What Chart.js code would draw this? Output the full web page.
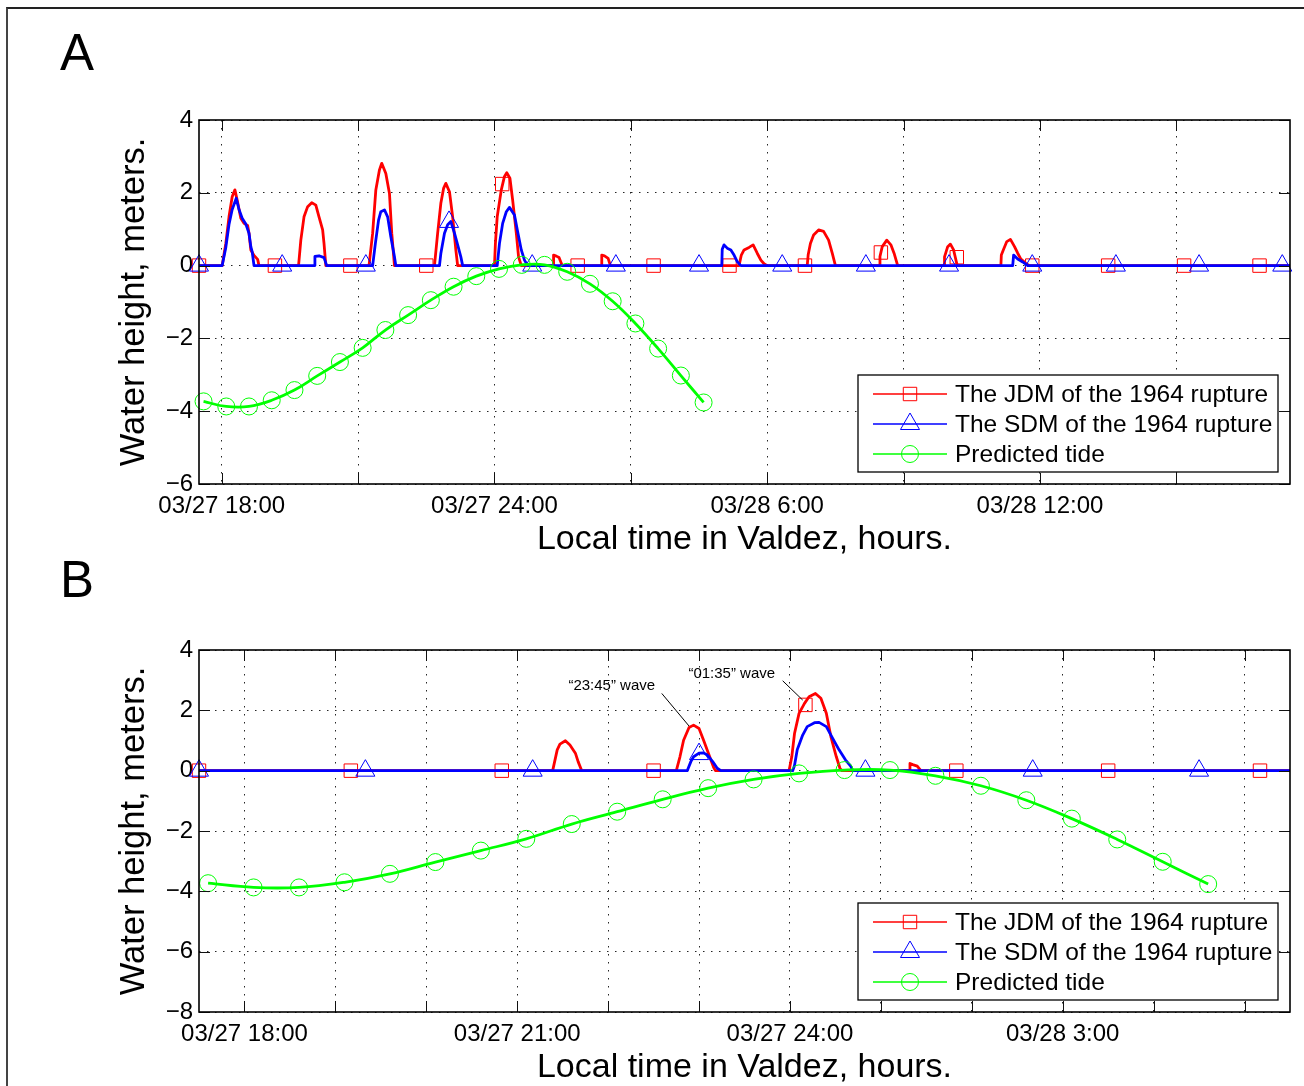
<!DOCTYPE html>
<html>
<head>
<meta charset="utf-8">
<title>Valdez water height</title>
<script src="https://cdn.jsdelivr.net/npm/chart.js@4.4.1/dist/chart.umd.min.js"></script>
<style>
  html, body { margin: 0; padding: 0; background: #fff; overflow: hidden; }
  body { width: 1304px; height: 1086px; position: relative; }
  .frame { position: absolute; left: 6px; top: 7px; width: 1400px; height: 1200px;
           border-top: 2px solid #222; border-left: 2px solid #444; }
  .panel { position: absolute; left: 0; width: 1304px; height: 570px; }
</style>
</head>
<body>
<div class="frame"></div>
<div class="panel" style="top:0"><canvas id="chartA" width="1304" height="570"></canvas></div>
<div class="panel" style="top:530px"><canvas id="chartB" width="1304" height="570"></canvas></div>
<script>
// ----------------------------------------------------------
// Data (time = hours after 03/27 00:00 local, height = meters)
// ----------------------------------------------------------
const seriesNames = ["The JDM of the 1964 rupture", "The SDM of the 1964 rupture", "Predicted tide"];

// predicted tide (same curve in both panels)
const tideTime = [17.6, 18.1, 18.6, 19.1, 19.6, 20.1, 20.6, 21.1, 21.6, 22.1, 22.6, 23.1,
  23.6, 24.1, 24.6, 25.1, 25.6, 26.1, 26.6, 27.1, 27.6, 28.1, 28.6];
const tideHeight = [-3.73, -3.87, -3.87, -3.70, -3.42, -3.03, -2.65, -2.26, -1.77, -1.36, -0.95, -0.58,
  -0.29, -0.09, 0.02, 0.02, -0.17, -0.50, -0.98, -1.59, -2.28, -3.02, -3.76];

// panel A - JDM
const jdmATime = [17.5, 18.01, 18.09, 18.16, 18.23, 18.29, 18.34, 18.42, 18.49, 18.57, 18.6, 18.64, 18.71, 18.79, 18.82,
  19.69, 19.74, 19.81, 19.89, 19.98, 20.07, 20.14, 20.22, 20.25, 20.29,
  21.24, 21.32, 21.39, 21.47, 21.52, 21.61, 21.69, 21.74, 21.8,
  22.68, 22.75, 22.82, 22.88, 22.93, 23.01, 23.08, 23.15, 23.19,
  24.0, 24.02, 24.06, 24.15, 24.22, 24.27, 24.34, 24.4, 24.48, 24.53, 24.59,
  25.29, 25.3, 25.36, 25.42, 25.49,
  26.35, 26.36, 26.42, 26.5, 26.55,
  29.38, 29.43, 29.49, 29.6, 29.69, 29.78, 29.86, 29.93, 30.0,
  30.88, 30.9, 30.95, 31.02, 31.13, 31.24, 31.35, 31.43, 31.5,
  32.46, 32.48, 32.53, 32.63, 32.72, 32.79, 32.87,
  33.89, 33.9, 33.97, 34.03, 34.1, 34.18,
  35.14, 35.15, 35.2, 35.27, 35.35, 35.44, 35.51, 35.58, 35.69, 35.77,
  41.5];
const jdmAHeight = [0, 0, 0.61, 1.34, 1.89, 2.08, 1.8, 1.3, 1.16, 1.1, 0.89, 0.43, 0.28, 0.17, 0,
  0, 0.7, 1.34, 1.62, 1.73, 1.66, 1.34, 0.98, 0.61, 0,
  0, 0.89, 2.08, 2.63, 2.81, 2.53, 1.98, 0.89, 0,
  0, 0.89, 1.71, 2.12, 2.26, 2.03, 1.34, 0.43, 0,
  0, 0.6, 1.34, 2.08, 2.45, 2.55, 2.4, 1.8, 0.89, 0.24, 0,
  0, 0.29, 0.26, 0.22, 0,
  0, 0.29, 0.27, 0.2, 0,
  0, 0.29, 0.43, 0.5, 0.57, 0.34, 0.15, 0.05, 0,
  0, 0.29, 0.61, 0.84, 0.98, 0.94, 0.7, 0.34, 0,
  0, 0.25, 0.52, 0.7, 0.57, 0.34, 0,
  0, 0.24, 0.52, 0.59, 0.43, 0,
  0, 0.29, 0.45, 0.66, 0.72, 0.52, 0.34, 0.18, 0.06, 0,
  0];
const jdmAMarkTime = [17.5, 19.17, 20.83, 22.5, 24.17, 25.83, 27.5, 29.17, 30.83, 32.5, 34.17, 35.83, 37.5, 39.17, 40.83];
const jdmAMarkHeight = [0, 0, 0, 0, 2.24, 0, 0, 0, 0, 0.36, 0.23, 0, 0, 0, 0];

// panel A - SDM
const sdmATime = [17.5, 18.01, 18.09, 18.16, 18.23, 18.32, 18.38, 18.45, 18.53, 18.6, 18.64, 18.67, 18.71,
  20.03, 20.05, 20.14, 20.25, 20.31,
  21.32, 21.38, 21.45, 21.5, 21.58, 21.65, 21.72, 21.8, 21.83,
  22.79, 22.82, 22.9, 22.97, 23.04, 23.12, 23.19, 23.26, 23.3,
  24.06, 24.11, 24.18, 24.26, 24.33, 24.44, 24.51, 24.59, 24.66, 24.73,
  29.0, 29.01, 29.05, 29.12, 29.2, 29.27, 29.34, 29.42,
  35.4, 35.42, 35.51, 35.62, 35.73,
  41.5];
const sdmAHeight = [0, 0, 0.5, 1.13, 1.54, 1.85, 1.54, 1.3, 1.14, 0.89, 0.52, 0.38, 0,
  0, 0.25, 0.27, 0.22, 0,
  0, 0.61, 1.25, 1.48, 1.53, 1.34, 0.79, 0.24, 0,
  0, 0.33, 0.89, 1.12, 1.21, 0.89, 0.57, 0.24, 0,
  0, 0.61, 1.16, 1.48, 1.6, 1.39, 0.93, 0.43, 0.15, 0,
  0, 0.45, 0.57, 0.48, 0.43, 0.29, 0.11, 0,
  0, 0.29, 0.18, 0.1, 0,
  0];
const sdmAMarkTime = [17.5, 19.33, 21.17, 23.0, 24.83, 26.67, 28.5, 30.33, 32.17, 34.0, 35.83, 37.67, 39.5, 41.33];
const sdmAMarkHeight = [0, 0, 0, 1.2, 0, 0, 0, 0, 0, 0, 0, 0, 0, 0];

// panel B - JDM
const jdmBTime = [17.5, 21.39, 21.44, 21.47, 21.53, 21.58, 21.64, 21.67, 21.71,
  22.75, 22.79, 22.83, 22.89, 22.94, 23.0, 23.05, 23.11, 23.16, 23.18,
  23.99, 24.02, 24.05, 24.1, 24.16, 24.21, 24.28, 24.34, 24.4, 24.45, 24.51, 24.55, 24.57,
  25.31, 25.32, 25.35, 25.4, 25.44,
  29.5];
const jdmBHeight = [0, 0, 0.69, 0.88, 0.99, 0.85, 0.58, 0.3, 0,
  0, 0.46, 1.01, 1.43, 1.51, 1.4, 1.01, 0.52, 0.11, 0,
  0, 0.46, 1.23, 1.9, 2.23, 2.45, 2.56, 2.4, 1.9, 1.13, 0.46, 0.08, 0,
  0, 0.24, 0.2, 0.15, 0,
  0];
const jdmBMarkTime = [17.5, 19.17, 20.83, 22.5, 24.17, 25.83, 27.5, 29.17];
const jdmBMarkHeight = [0, 0, 0, 0, 2.18, 0, 0, 0];

// panel B - SDM
const sdmBTime = [17.5, 22.87, 22.91, 22.94, 23.0, 23.05, 23.09, 23.15, 23.2, 23.24,
  24.03, 24.05, 24.08, 24.14, 24.19, 24.27, 24.32, 24.4, 24.47, 24.54, 24.61, 24.67, 24.69,
  29.5];
const sdmBHeight = [0, 0, 0.3, 0.46, 0.58, 0.59, 0.52, 0.3, 0.08, 0,
  0, 0.17, 0.69, 1.18, 1.46, 1.59, 1.6, 1.46, 1.07, 0.69, 0.36, 0.14, 0,
  0];
const sdmBMarkTime = [17.5, 19.33, 21.17, 23.0, 24.83, 26.67, 28.5];
const sdmBMarkHeight = [0, 0, 0, 0.55, 0, 0, 0];

// axis ticks
const aGridHours = [18, 21, 24, 27, 30, 33, 36, 39];
const aLabelHours = [18, 24, 30, 36];
const aLabelText = ["03/27 18:00", "03/27 24:00", "03/28 6:00", "03/28 12:00"];
const bGridHours = [18, 19, 20, 21, 22, 23, 24, 25, 26, 27, 28, 29];
const bLabelHours = [18, 21, 24, 27];
const bLabelText = ["03/27 18:00", "03/27 21:00", "03/27 24:00", "03/28 3:00"];

const FONT = "'Liberation Sans', Arial, Helvetica, sans-serif";
const RED = "#ff0000", BLUE = "#0000ff", GREEN = "#00ff00";

function zip(xs, ys) {
  return xs.map((x, i) => ({ x: x, y: ys[i] }));
}

// marker shapes, same geometry Chart.js uses for its point styles
function drawMarker(ctx, style, x, y, r, color) {
  ctx.save();
  ctx.strokeStyle = color;
  ctx.lineWidth = 1;
  ctx.beginPath();
  if (style === "rect") {
    const s = Math.SQRT1_2 * r;
    ctx.rect(x - s, y - s, 2 * s, 2 * s);
  } else if (style === "triangle") {
    ctx.moveTo(x, y - r);
    ctx.lineTo(x + r * Math.sin(2 * Math.PI / 3), y - r * Math.cos(2 * Math.PI / 3));
    ctx.lineTo(x + r * Math.sin(4 * Math.PI / 3), y - r * Math.cos(4 * Math.PI / 3));
    ctx.closePath();
  } else {
    ctx.arc(x, y, r, 0, Math.PI * 2);
  }
  ctx.stroke();
  ctx.restore();
}

// ----------------------------------------------------------
// Plugin: box axes with inner ticks, legend, notes, panel tag
// ----------------------------------------------------------
const matlabAxes = {
  id: "matlabAxes",
  afterDatasetsDraw(chart, args, opts) {
    const { ctx, chartArea: a, scales } = chart;
    ctx.save();

    // leader notes
    (opts.notes || []).forEach((n) => {
      const tx = scales.x.getPixelForValue(n.at[0]);
      const ty = scales.y.getPixelForValue(n.at[1]);
      ctx.font = "15px " + FONT;
      ctx.fillStyle = "#000";
      ctx.textAlign = "center";
      ctx.textBaseline = "middle";
      ctx.fillText(n.text, tx, ty);
      ctx.strokeStyle = "#000";
      ctx.lineWidth = 1;
      ctx.beginPath();
      ctx.moveTo(scales.x.getPixelForValue(n.from[0]), scales.y.getPixelForValue(n.from[1]));
      ctx.lineTo(scales.x.getPixelForValue(n.to[0]), scales.y.getPixelForValue(n.to[1]));
      ctx.stroke();
    });

    // ticks pointing inwards on all four sides
    ctx.strokeStyle = "#111";
    ctx.lineWidth = 1;
    ctx.beginPath();
    scales.x.ticks.forEach((t) => {
      const px = Math.round(scales.x.getPixelForValue(t.value)) + 0.5;
      ctx.moveTo(px, a.bottom); ctx.lineTo(px, a.bottom - 11);
      ctx.moveTo(px, a.top); ctx.lineTo(px, a.top + 11);
    });
    scales.y.ticks.forEach((t) => {
      const py = Math.round(scales.y.getPixelForValue(t.value)) + 0.5;
      ctx.moveTo(a.left, py); ctx.lineTo(a.left + 11, py);
      ctx.moveTo(a.right, py); ctx.lineTo(a.right - 11, py);
    });
    ctx.stroke();

    ctx.lineWidth = 1.6;
    ctx.strokeStyle = "#000";
    ctx.strokeRect(a.left, a.top, a.right - a.left, a.bottom - a.top);
    ctx.restore();
  },
  afterDraw(chart, args, opts) {
    const { ctx, chartArea: a } = chart;
    ctx.save();

    // legend box, lower right
    const w = 420, h = 97;
    const lx = a.right - 12 - w;
    const ly = a.bottom - 12 - h;
    ctx.fillStyle = "#fff";
    ctx.fillRect(lx, ly, w, h);
    ctx.strokeStyle = "#000";
    ctx.lineWidth = 1.3;
    ctx.strokeRect(lx, ly, w, h);
    opts.rows.forEach((row, i) => {
      const ry = ly + 19 + i * 30;
      ctx.strokeStyle = row.color;
      ctx.lineWidth = 1.5;
      ctx.beginPath();
      ctx.moveTo(lx + 15, ry);
      ctx.lineTo(lx + 89, ry);
      ctx.stroke();
      drawMarker(ctx, row.marker, lx + 52, ry, row.radius, row.color);
      ctx.fillStyle = "#000";
      ctx.font = "24.5px " + FONT;
      ctx.textAlign = "left";
      ctx.textBaseline = "middle";
      ctx.fillText(row.label, lx + 97, ry + 1);
    });

    // panel letter
    ctx.fillStyle = "#000";
    ctx.font = "51px " + FONT;
    ctx.textAlign = "left";
    ctx.textBaseline = "alphabetic";
    ctx.fillText(opts.tag.text, opts.tag.x, opts.tag.y);
    ctx.restore();
  },
};

// ----------------------------------------------------------
// Chart builder
// ----------------------------------------------------------
function lineSet(times, heights, color, order) {
  return {
    data: zip(times, heights),
    borderColor: color,
    borderWidth: 2.8,
    borderJoinStyle: "round",
    borderCapStyle: "round",
    pointRadius: 0,
    tension: 0,
    fill: false,
    order: order,
  };
}

function markSet(times, heights, color, style, radius, order) {
  return {
    data: zip(times, heights),
    showLine: false,
    pointStyle: style,
    pointRadius: radius,
    pointBorderWidth: 1,
    pointBorderColor: color,
    pointBackgroundColor: "rgba(0,0,0,0)",
    borderColor: color,
    clip: false,
    order: order,
  };
}

function buildPanel(id, p) {
  const legendRows = [
    { label: seriesNames[0], color: RED, marker: "rect", radius: 9.5 },
    { label: seriesNames[1], color: BLUE, marker: "triangle", radius: 11 },
    { label: seriesNames[2], color: GREEN, marker: "circle", radius: 8.5 },
  ];

  return new Chart(document.getElementById(id), {
    type: "line",
    data: {
      datasets: [
        lineSet(p.jdmT, p.jdmH, RED, 6),
        markSet(p.jdmMT, p.jdmMH, RED, "rect", 9.5, 5),
        lineSet(p.sdmT, p.sdmH, BLUE, 4),
        markSet(p.sdmMT, p.sdmMH, BLUE, "triangle", 11, 3),
        {
          data: zip(tideTime, tideHeight),
          borderColor: GREEN,
          borderWidth: 2.8,
          tension: 0.4,
          pointStyle: "circle",
          pointRadius: 8.5,
          pointBorderWidth: 1,
          pointBorderColor: GREEN,
          pointBackgroundColor: "rgba(0,0,0,0)",
          fill: false,
          clip: false,
          order: 1,
        },
      ],
    },
    options: {
      responsive: false,
      animation: false,
      events: [],
      layout: { padding: { left: 0, top: 120, right: 14, bottom: 0 } },
      plugins: {
        legend: { display: false },
        tooltip: { enabled: false },
        matlabAxes: { rows: legendRows, tag: p.tag, notes: p.notes || [] },
      },
      scales: {
        x: {
          type: "linear",
          min: 17.5,
          max: p.xMax,
          afterFit: (s) => { s.height = p.xAxisHeight; },
          afterBuildTicks: (s) => { s.ticks = p.gridHours.map((v) => ({ value: v })); },
          ticks: {
            autoSkip: false,
            maxRotation: 0,
            padding: 8,
            color: "#000",
            font: { family: FONT, size: 24 },
            callback: (v) => {
              const i = p.labelHours.indexOf(v);
              return i >= 0 ? p.labelText[i] : "";
            },
          },
          grid: { color: "rgba(0,0,0,0.85)", lineWidth: 1, drawTicks: false },
          border: { display: false, dash: [1.5, 6.5] },
          title: {
            display: true,
            text: "Local time in Valdez, hours.",
            color: "#000",
            font: { family: FONT, size: 34 },
            padding: { top: 0, bottom: p.xTitlePad },
          },
        },
        y: {
          min: p.yMin,
          max: 4,
          afterFit: (s) => { s.width = 199; },
          ticks: {
            stepSize: 2,
            padding: 6,
            color: "#000",
            font: { family: FONT, size: 24 },
            callback: (v) => (v < 0 ? "\u2212" + Math.abs(v) : String(v)),
          },
          grid: { color: "rgba(0,0,0,0.85)", lineWidth: 1, drawTicks: false },
          border: { display: false, dash: [1.5, 6.5] },
          title: {
            display: true,
            text: "Water height, meters.",
            color: "#000",
            font: { family: FONT, size: 34.5 },
            padding: { top: 114, bottom: 0 },
          },
        },
      },
    },
    plugins: [matlabAxes],
  });
}

// panel A: full day
buildPanel("chartA", {
  jdmT: jdmATime, jdmH: jdmAHeight, jdmMT: jdmAMarkTime, jdmMH: jdmAMarkHeight,
  sdmT: sdmATime, sdmH: sdmAHeight, sdmMT: sdmAMarkTime, sdmMH: sdmAMarkHeight,
  xMax: 41.5, yMin: -6,
  gridHours: aGridHours, labelHours: aLabelHours, labelText: aLabelText,
  xAxisHeight: 86, xTitlePad: 10,
  tag: { text: "A", x: 60, y: 70 },
});

// panel B: first twelve hours, with the two named waves
buildPanel("chartB", {
  jdmT: jdmBTime, jdmH: jdmBHeight, jdmMT: jdmBMarkTime, jdmMH: jdmBMarkHeight,
  sdmT: sdmBTime, sdmH: sdmBHeight, sdmMT: sdmBMarkTime, sdmMH: sdmBMarkHeight,
  xMax: 29.5, yMin: -8,
  gridHours: bGridHours, labelHours: bLabelHours, labelText: bLabelText,
  xAxisHeight: 88, xTitlePad: 12,
  tag: { text: "B", x: 60, y: 67 },
  notes: [
    { text: "\u201c23:45\u201d wave", at: [22.04, 2.81], from: [22.59, 2.56], to: [22.89, 1.48] },
    { text: "\u201c01:35\u201d wave", at: [23.36, 3.21], from: [23.92, 2.98], to: [24.14, 2.34] },
  ],
});
</script>
</body>
</html>
